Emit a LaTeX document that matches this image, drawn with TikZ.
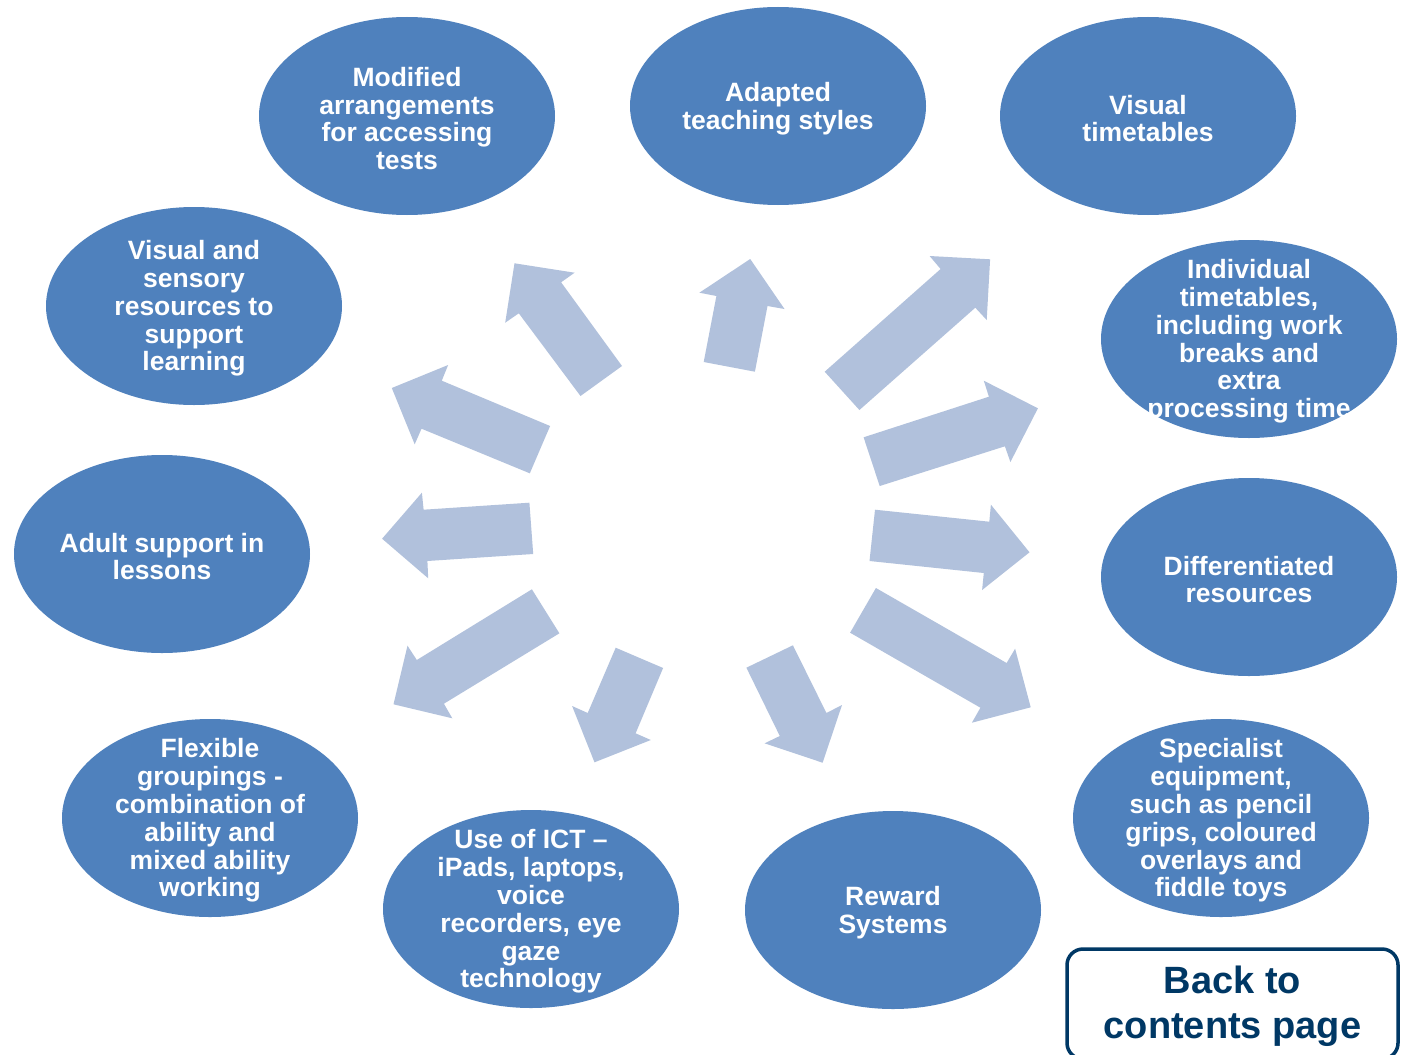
\documentclass[tikz,border=0pt]{standalone}
\usepackage{fontspec}
\setmainfont{Liberation Sans}
\usetikzlibrary{shapes.geometric}
\definecolor{ellc}{RGB}{79,129,189}
\definecolor{arrc}{RGB}{177,193,220}
\definecolor{btnc}{RGB}{0,56,101}
\tikzset{
  blob/.style={ellipse, fill=ellc, draw=none, minimum width=296pt, minimum height=198pt, inner sep=0pt},
  lbl/.style={text=white, font=\fontsize{26.5}{27.8}\selectfont\bfseries, align=center, inner sep=0pt, yshift=-2.5pt},
  arr/.style={fill=arrc, draw=none},
  btn/.style={draw=btnc, line width=3.5pt, rounded corners=16pt, minimum width=331pt, minimum height=110pt, inner sep=0pt},
  btntext/.style={text=btnc, font=\fontsize{38}{45}\selectfont\bfseries, align=center, inner sep=0pt}
}
\begin{document}
\begin{tikzpicture}[x=1pt,y=-1pt]
\useasboundingbox (0,0) rectangle (1404,1054);
\clip (0,0) rectangle (1404,1054);
\fill[white] (0,0) rectangle (1404,1054);

% ellipses
\node[blob] (n1) at (407,116) {};
\node[blob] (n2) at (778,106) {};
\node[blob] (n3) at (1148,116) {};
\node[blob] (n4) at (1249,339) {};
\node[blob] (n5) at (1249,577) {};
\node[blob] (n6) at (1221,818) {};
\node[blob] (n7) at (893,910) {};
\node[blob] (n8) at (531,909) {};
\node[blob] (n9) at (210,818) {};
\node[blob] (n10) at (162,554) {};
\node[blob] (n11) at (194,306) {};

% labels
\node[lbl] (t1) at (n1) {Modified\\arrangements\\for accessing\\tests};
\node[lbl] (t2) at (n2) {Adapted\\teaching styles};
\node[lbl] (t3) at (n3) {Visual\\timetables};
\node[lbl] (t4) at (n4) {Individual\\timetables,\\including work\\breaks and\\extra\\processing time};
\node[lbl] (t5) at (n5) {Differentiated\\resources};
\node[lbl] (t6) at (n6) {Specialist\\equipment,\\such as pencil\\grips, coloured\\overlays and\\fiddle toys};
\node[lbl] (t7) at (n7) {Reward\\Systems};
\node[lbl] (t8) at (n8) {Use of ICT --\\iPads, laptops,\\voice\\recorders, eye\\gaze\\technology};
\node[lbl] (t9) at (n9) {Flexible\\groupings -\\combination of\\ability and\\mixed ability\\working};
\node[lbl] (t10) at (n10) {Adult support in\\lessons};
\node[lbl] (t11) at (n11) {Visual and\\sensory\\resources to\\support\\learning};

% block arrows
\fill[arr] (514.5,263.3) -- (574.6,272.7) -- (561.1,282.3) -- (622.0,366) -- (580.5,396) -- (518.8,313.3) -- (505.2,322.7) -- cycle;
\fill[arr] (750.2,259) -- (784.5,309) -- (767.5,306) -- (754.9,371.7) -- (703.7,362) -- (716.4,296) -- (699.4,292.7) -- cycle;
\fill[arr] (990.1,259.3) -- (986.7,320) -- (975.3,307.7) -- (859.4,410) -- (824.7,371.7) -- (940.6,269) -- (929.6,256) -- cycle;
\fill[arr] (1037.9,408.3) -- (1010.4,462) -- (1004.9,446.3) -- (879.7,486) -- (863.6,437.3) -- (988.9,396.7) -- (983.8,380.7) -- cycle;
\fill[arr] (1029.5,552.3) -- (982.1,590) -- (983.8,573) -- (869.5,561) -- (875.0,509.7) -- (989.3,521.7) -- (990.9,504.7) -- cycle;
\fill[arr] (1030.7,707.3) -- (971.9,722.7) -- (980.4,707.7) -- (850.1,632.7) -- (875.9,588) -- (1006.6,663) -- (1015.1,648.7) -- cycle;
\fill[arr] (822.6,762.7) -- (764.6,743.3) -- (779.8,736) -- (746.4,667.7) -- (792.9,645.3) -- (826.4,713) -- (842.0,705) -- cycle;
\fill[arr] (594.5,762.3) -- (572.1,706) -- (587.7,713) -- (615.7,647.7) -- (663.1,668) -- (635.6,733.3) -- (650.8,740) -- cycle;
\fill[arr] (393.5,704.3) -- (407.5,645.7) -- (416.8,660) -- (531.9,589.3) -- (559.4,633.3) -- (443.9,703.7) -- (452.3,718.3) -- cycle;
\fill[arr] (382.1,538.7) -- (421.9,492.7) -- (423.6,509.7) -- (529.4,502.7) -- (533.2,554) -- (427.4,561) -- (428.2,578.3) -- cycle;
\fill[arr] (391.8,388) -- (448.1,365) -- (441.8,380.7) -- (550.1,426) -- (529.8,473.3) -- (421.5,428.7) -- (414.7,444.3) -- cycle;

% button
\node[btn] (back) at (1232.5,1004) {};
\node[btntext] (backtext) at (1232.5,1006) {Back to\\contents page};
\end{tikzpicture}
\end{document}
